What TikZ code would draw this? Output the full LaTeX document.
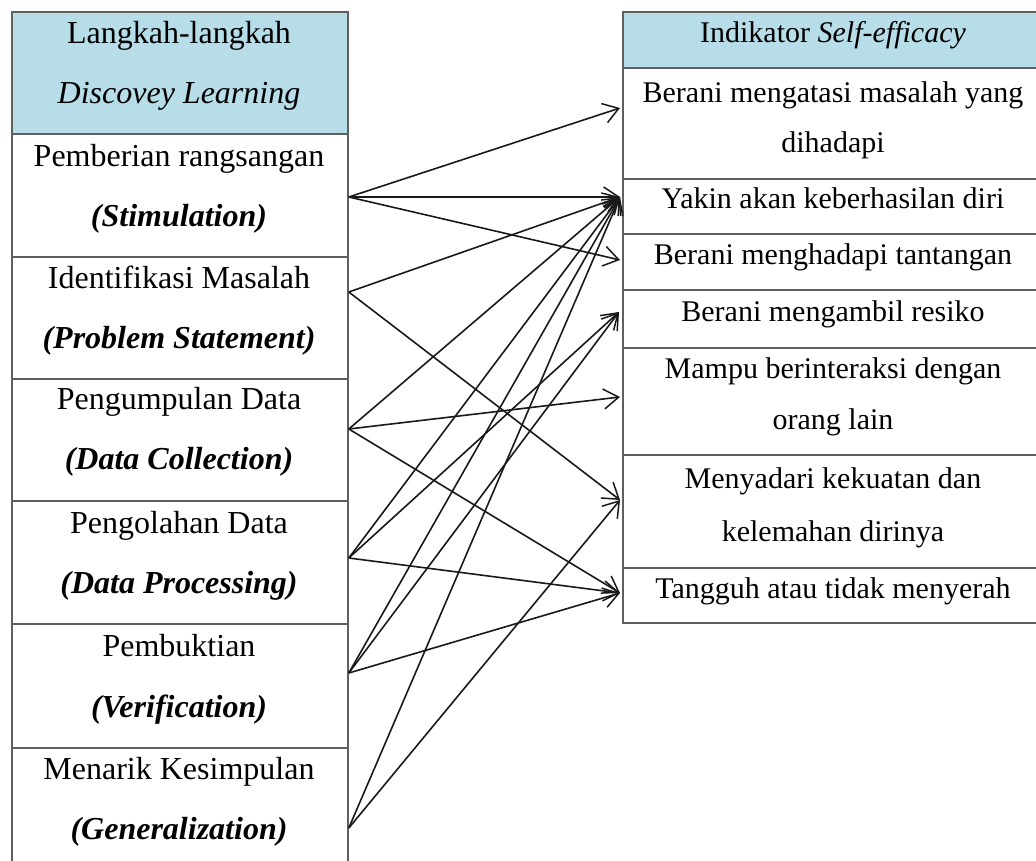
\documentclass[tikz,border=0pt]{standalone}
\usepackage{fontspec}
\setmainfont{Liberation Serif}
\usetikzlibrary{arrows.meta}
\definecolor{headblue}{RGB}{182,221,232}
\definecolor{rulegray}{RGB}{95,95,95}

\begin{document}
\begin{tikzpicture}[x=1pt,y=-1pt,
  cell/.style={draw=rulegray, line width=1.8pt, inner sep=0pt, anchor=north west},
  lcell/.style={cell, minimum width=336pt},
  rcell/.style={cell, minimum width=430pt},
  head/.style={fill=headblue},
  ltxt/.style={font=\fontsize{32}{38}\selectfont, anchor=base, inner sep=0pt},
  rtxt/.style={font=\fontsize{30}{36}\selectfont, anchor=base, inner sep=0pt},
  link/.style={line width=1.6pt, draw=black!90,
    -{Straight Barb[length=15pt,width=20pt,line width=1.5pt]}}]

\useasboundingbox (0,0) rectangle (1036,861);

% ---- left table: steps of discovery learning ----
\node[lcell, head, minimum height=122pt] (LH) at (11,11) {};
\node[lcell, minimum height=123pt] (L1) at (11,133) {};
\node[lcell, minimum height=122pt] (L2) at (11,256) {};
\node[lcell, minimum height=122pt] (L3) at (11,378) {};
\node[lcell, minimum height=123pt] (L4) at (11,500) {};
\node[lcell, minimum height=124pt] (L5) at (11,623) {};
\node[lcell, minimum height=140pt] (L6) at (11,747) {};

\node[ltxt] (lha) at (179,44)  {Langkah-langkah};
\node[ltxt] (lhb) at (179,104) {\itshape Discovey Learning};
\node[ltxt] (l1a) at (179,167) {Pemberian rangsangan};
\node[ltxt] (l1b) at (179,227) {\bfseries\itshape (Stimulation)};
\node[ltxt] (l2a) at (179,288) {Identifikasi Masalah};
\node[ltxt] (l2b) at (179,348) {\bfseries\itshape (Problem Statement)};
\node[ltxt] (l3a) at (179,409) {Pengumpulan Data};
\node[ltxt] (l3b) at (179,469) {\bfseries\itshape (Data Collection)};
\node[ltxt] (l4a) at (179,533) {Pengolahan Data};
\node[ltxt] (l4b) at (179,593) {\bfseries\itshape (Data Processing)};
\node[ltxt] (l5a) at (179,656) {Pembuktian};
\node[ltxt] (l5b) at (179,717) {\bfseries\itshape (Verification)};
\node[ltxt] (l6a) at (179,779) {Menarik Kesimpulan};
\node[ltxt] (l6b) at (179,839) {\bfseries\itshape (Generalization)};

% ---- right table: self-efficacy indicators ----
\node[rcell, head, minimum height=56pt] (RH) at (622,11) {};
\node[rcell, minimum height=111pt] (R1) at (622,67) {};
\node[rcell, minimum height=55pt]  (R2) at (622,178) {};
\node[rcell, minimum height=56pt]  (R3) at (622,233) {};
\node[rcell, minimum height=58pt]  (R4) at (622,289) {};
\node[rcell, minimum height=107pt] (R5) at (622,347) {};
\node[rcell, minimum height=113pt] (R6) at (622,454) {};
\node[rcell, minimum height=55pt]  (R7) at (622,567) {};

\node[rtxt] (rha) at (833,43)  {Indikator \itshape Self-efficacy};
\node[rtxt] (r1a) at (833,103) {Berani mengatasi masalah yang};
\node[rtxt] (r1b) at (833,153) {dihadapi};
\node[rtxt] (r2a) at (833,209) {Yakin akan keberhasilan diri};
\node[rtxt] (r3a) at (833,264) {Berani menghadapi tantangan};
\node[rtxt] (r4a) at (833,321) {Berani mengambil resiko};
\node[rtxt] (r5a) at (833,378) {Mampu berinteraksi dengan};
\node[rtxt] (r5b) at (833,429) {orang lain};
\node[rtxt] (r6a) at (833,488) {Menyadari kekuatan dan};
\node[rtxt] (r6b) at (833,541) {kelemahan dirinya};
\node[rtxt] (r7a) at (833,598) {Tangguh atau tidak menyerah};

% ---- connection ports on the table borders ----
\coordinate (s1) at (L1.east |- 0,197);
\coordinate (s2) at (L2.east |- 0,292);
\coordinate (s3) at (L3.east |- 0,429);
\coordinate (s4) at (L4.east |- 0,558);
\coordinate (s5) at (L5.east |- 0,673);
\coordinate (s6) at (L6.east |- 0,828);

\coordinate (t1) at (620,108);
\coordinate (t2) at (620,197);
\coordinate (t3) at (620,260);
\coordinate (t4) at (619,312);
\coordinate (t5) at (620,397);
\coordinate (t6) at (620,500);
\coordinate (t7) at (620,593);

% ---- links between steps and indicators ----
\draw[link] (s1) -- (t1);
\draw[link] (s1) -- (t2);
\draw[link] (s1) -- (t3);
\draw[link] (s2) -- (t2);
\draw[link] (s2) -- (t6);
\draw[link] (s3) -- (t2);
\draw[link] (s3) -- (t5);
\draw[link] (s3) -- (t7);
\draw[link] (s4) -- (t2);
\draw[link] (s4) -- (t4);
\draw[link] (s4) -- (t7);
\draw[link] (s5) -- (t2);
\draw[link] (s5) -- (t4);
\draw[link] (s5) -- (t7);
\draw[link] (s6) -- (t2);
\draw[link] (s6) -- (t6);
\end{tikzpicture}
\end{document}
